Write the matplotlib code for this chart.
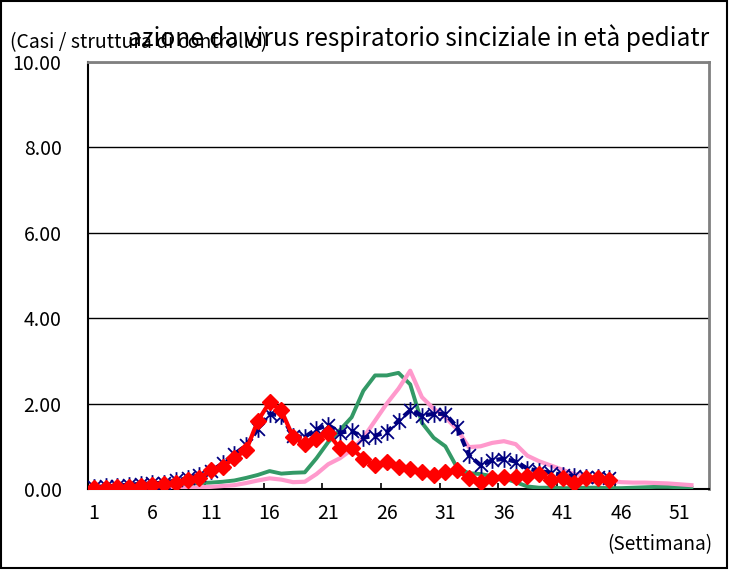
import numpy as np
import matplotlib.pyplot as plt
from matplotlib.path import Path
from matplotlib.patches import Rectangle

plt.rcParams['font.family'] = ['Noto Sans CJK JP', 'DejaVu Sans']

# 주차 (1..53)
weeks = np.arange(1, 54)

# 시리즈 값
green = [0.02, 0.02, 0.03, 0.03, 0.04, 0.05, 0.06, 0.08, 0.10, 0.14,
         0.15, 0.17, 0.20, 0.26, 0.33, 0.42, 0.36, 0.38, 0.39, 0.72,
         1.10, 1.38, 1.68, 2.30, 2.66, 2.66, 2.72, 2.45, 1.55, 1.20,
         1.00, 0.50, 0.37, 0.35, 0.30, 0.25, 0.16, 0.06, 0.03, 0.03,
         0.02, 0.02, 0.03, 0.03, 0.02, 0.02, 0.03, 0.04, 0.05, 0.05,
         0.04, 0.03]
pink = [0.01, 0.01, 0.01, 0.02, 0.02, 0.02, 0.03, 0.03, 0.03, 0.04,
        0.05, 0.07, 0.09, 0.14, 0.20, 0.25, 0.22, 0.16, 0.17, 0.35,
        0.58, 0.72, 0.92, 1.20, 1.60, 2.00, 2.35, 2.77, 2.15, 1.88,
        1.68, 1.40, 0.98, 1.00, 1.08, 1.12, 1.05, 0.78, 0.65, 0.55,
        0.45, 0.35, 0.30, 0.25, 0.20, 0.16, 0.15, 0.15, 0.14, 0.13,
        0.11, 0.09]
navy = [0.05, 0.06, 0.08, 0.10, 0.12, 0.13, 0.15, 0.20, 0.25, 0.33,
        0.42, 0.60, 0.82, 1.02, 1.40, 1.76, 1.72, 1.24, 1.22, 1.40,
        1.50, 1.32, 1.36, 1.20, 1.25, 1.33, 1.60, 1.84, 1.72, 1.76,
        1.76, 1.45, 0.79, 0.56, 0.67, 0.71, 0.64, 0.48, 0.42, 0.38,
        0.33, 0.30, 0.28, 0.27, 0.25]
red = [0.02, 0.02, 0.04, 0.05, 0.07, 0.09, 0.12, 0.13, 0.21, 0.25,
       0.44, 0.52, 0.73, 0.91, 1.60, 2.03, 1.84, 1.22, 1.06, 1.18,
       1.30, 0.95, 0.95, 0.71, 0.56, 0.64, 0.52, 0.48, 0.40, 0.33,
       0.40, 0.44, 0.25, 0.17, 0.25, 0.29, 0.29, 0.30, 0.34, 0.20,
       0.26, 0.14, 0.25, 0.25, 0.21]

xlabels = [str(w) for w in range(1, 54, 5)]
yticks = [0, 2, 4, 6, 8, 10]

W, H = 729, 571
fig = plt.figure(figsize=(W / 100, H / 100), dpi=100)
ax = fig.add_axes([88 / W, (H - 489) / H, (709 - 88) / W, (489 - 62) / H])

ax.plot(weeks[:len(green)], green, color='#339966', lw=2.8, zorder=3)
ax.plot(weeks[:len(pink)], pink, color='#FF99CC', lw=3, zorder=4)

# 별 모양 마커 (X + 세로선)
star = Path([(-1, -1), (1, 1), (-1, 1), (1, -1), (0, -1.3), (0, 1.3)],
            [Path.MOVETO, Path.LINETO, Path.MOVETO, Path.LINETO, Path.MOVETO, Path.LINETO])
ax.plot(weeks[:len(navy)], navy, color='#000080', lw=3, ls=(0, (2, 1)),
        marker=star, ms=12, mec='#000080', mew=1.3, mfc='none', zorder=5)
ax.plot(weeks[:len(red)], red, color='#FF0000', lw=3, marker='D', ms=8.5,
        mec='#FF0000', mfc='#FF0000', zorder=6)

ax.set_xlim(0.5, 53.5)
ax.set_ylim(0, 10)
ax.set_yticks(yticks)
ax.set_yticklabels(['%.2f' % v for v in yticks])
ax.set_xticks(range(1, 54, 5))
ax.set_xticklabels(xlabels)
ax.set_xticks(np.arange(5.5, 53, 5), minor=True)
ax.tick_params(axis='x', which='major', length=0, pad=10, labelsize=14)
ax.tick_params(axis='x', which='minor', direction='in', length=4, width=1.2)
ax.tick_params(axis='y', length=0, pad=19, labelsize=14)
ax.grid(axis='y', color='black', lw=1)
ax.set_axisbelow(True)

for s in ['top', 'right']:
    ax.spines[s].set_color('#808080')
    ax.spines[s].set_linewidth(2)
for s in ['left', 'bottom']:
    ax.spines[s].set_color('black')
    ax.spines[s].set_linewidth(1.5)

# 제목 (잘린 상태 그대로)
fig.text(128 / W, 1 - 38 / H, 'azione da virus respiratorio sinciziale in età pediatr',
         fontsize=17.7, ha='left', va='center')
fig.text(10 / W, 1 - 43 / H, '(Casi / struttura di controllo)', fontsize=14,
         ha='left', va='center')
fig.text(712 / W, 1 - 545 / H, '(Settimana)', fontsize=13.7, ha='right', va='center')

fig.patches.append(Rectangle((1 / W, 3 / H), (W - 3) / W, (H - 4) / H, transform=fig.transFigure,
                             fill=False, ec='black', lw=1.5))

fig.savefig('out.png', dpi=100)
